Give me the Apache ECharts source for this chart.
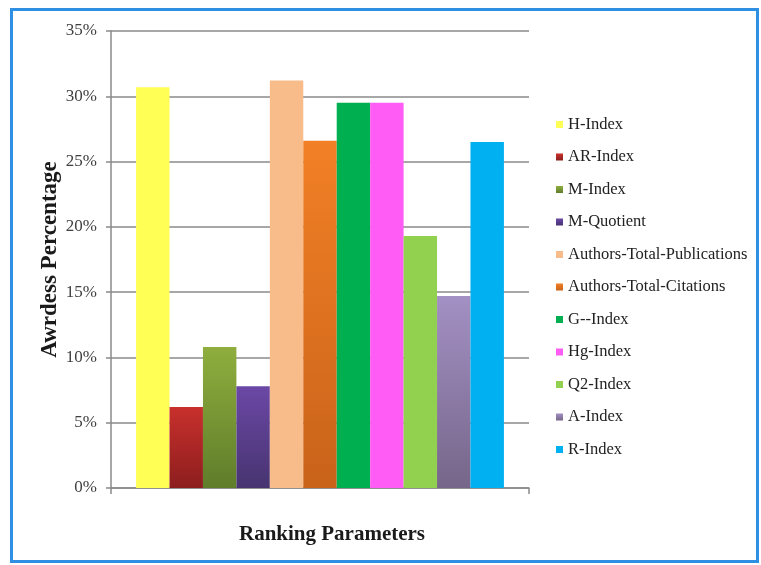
<!DOCTYPE html>
<html>
<head>
<meta charset="utf-8">
<script src="https://cdn.jsdelivr.net/npm/echarts@6/dist/echarts.min.js"></script>
<style>
    html, body { margin: 0; padding: 0; background: #fff; }
    #chart { width: 761px; height: 565px; }
    .frame {
        position: absolute; left: 10px; top: 8px; width: 743px; height: 549px;
        border: 3px solid #2f8fe3; pointer-events: none;
    }
</style>
</head>
<body>
<div id="chart"></div>
<div class="frame"></div>
<script>
// 指标名称（图例）
var names = ["H-Index", "AR-Index", "M-Index", "M-Quotient", "Authors-Total-Publications",
    "Authors-Total-Citations", "G--Index", "Hg-Index", "Q2-Index", "A-Index", "R-Index"];
// 百分比数值
var values = [30.7, 6.2, 10.8, 7.8, 31.2, 26.6, 29.5, 29.5, 19.3, 14.7, 26.5];
// 柱子颜色 [顶部, 底部]
var colors = [
    ["#ffff55", "#ffff55"],
    ["#c8302c", "#8c1e1e"],
    ["#8fae3e", "#5f7d2a"],
    ["#6b48a6", "#473470"],
    ["#f8bb8a", "#f8bb8a"],
    ["#f28026", "#c9631a"],
    ["#00b050", "#00b050"],
    ["#ff5cf5", "#ff5cf5"],
    ["#92d050", "#92d050"],
    ["#a390c4", "#766689"],
    ["#00b0f0", "#00b0f0"]
];
var yTicks = { min: 0, max: 35, step: 5 };

(function () {
    var myChart = echarts.init(document.getElementById("chart"));
    var serif = "Liberation Serif";

    var series = names.map(function (n, i) {
        return {
            name: n,
            type: "bar",
            barGap: "0%",
            barCategoryGap: "12%",
            data: [values[i]],
            itemStyle: {
                color: new echarts.graphic.LinearGradient(0, 0, 0, 1, [
                    { offset: 0, color: colors[i][0] },
                    { offset: 1, color: colors[i][1] }
                ])
            }
        };
    });

    var option = {
        animation: false,
        backgroundColor: "#fff",
        grid: { left: 111, right: 232, top: 31, bottom: 77 },
        legend: {
            orient: "vertical",
            left: 556,
            top: 116,
            padding: 0,
            icon: "rect",
            itemWidth: 7,
            itemHeight: 7,
            itemGap: 15.5,
            textStyle: { fontFamily: serif, fontSize: 16.5, color: "#222" },
            data: names
        },
        xAxis: {
            type: "category",
            data: [""],
            name: "Ranking Parameters",
            nameLocation: "middle",
            nameGap: 36,
            nameTextStyle: { fontFamily: serif, fontSize: 21, fontWeight: "bold", color: "#1a1a1a", padding: [0, 0, 0, 24] },
            axisLine: { lineStyle: { color: "#8a8a8a", width: 1.5 } },
            axisTick: { show: true, length: 6, lineStyle: { color: "#8a8a8a", width: 1.5 } },
            axisLabel: { show: false }
        },
        yAxis: {
            type: "value",
            min: yTicks.min,
            max: yTicks.max,
            interval: yTicks.step,
            name: "Awrdess Percentage",
            nameLocation: "middle",
            nameGap: 49,
            nameMoveOverlap: false,
            nameTextStyle: { fontFamily: serif, fontSize: 23, fontWeight: "bold", color: "#1a1a1a" },
            axisLine: { show: true, lineStyle: { color: "#8a8a8a", width: 1.5 } },
            axisTick: { show: true, length: 5, lineStyle: { color: "#8a8a8a", width: 1.5 } },
            axisLabel: { margin: 14, fontFamily: serif, fontSize: 17, color: "#404040", formatter: "{value}%" },
            splitLine: { lineStyle: { color: "#8a8a8a", width: 1.5 } }
        },
        series: series
    };
    myChart.setOption(option);
})();
</script>
</body>
</html>
